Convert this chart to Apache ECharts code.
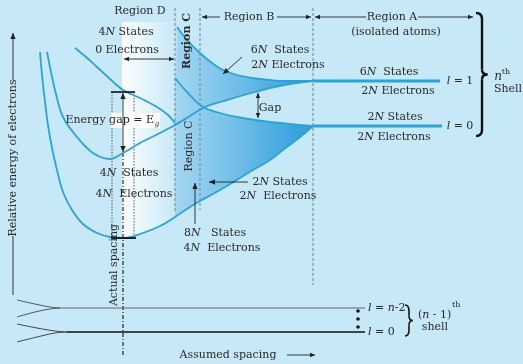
<!DOCTYPE html>
<html><head><meta charset="utf-8">
<script src="https://cdn.jsdelivr.net/npm/echarts@6/dist/echarts.min.js"></script>
<style>html,body{margin:0;padding:0;background:#c7e8f7}#c{width:523px;height:364px}</style>
</head><body><div id="c"></div>
<script>
// ---- data: curves as [interatomic spacing, relative energy] (diagram units) ----
const curveP = [[40,52],[42,75],[45,102],[48,125],[52,148],[57,170],[63,192],[72,210],[83,224],[97,233],[110,237],[125,238],[140,234],[160,226],[175,217],[190,207],[200,201],[220,190],[240,178],[253,170],[270,160],[283,150],[295,141],[305,133],[313,126]];
const curveQ = [[47,52],[51,72],[55,90],[63,117],[77,137],[93,153],[110,159],[123,153],[140,143],[160,133],[175,125],[190,116],[203,108],[220,102],[237,97],[255,92],[270,88],[290,84],[313,81]];
const curveR = [[75,48],[86,57],[97,67],[110,79],[123,90],[140,98],[157,107],[168,115],[175,123]];
const curveS = [[177,27],[188,41],[200,53],[212,63],[223,70],[237,75],[253,78],[270,80],[283,81],[300,81],[313,81]];
const curveA = [[175,78],[187,92],[203,107],[220,113],[237,117],[255,120],[270,122],[290,124],[313,126]];
const levelL1 = [[313,81],[440,81]];
const levelL0 = [[313,126],[442,126]];
const shellTop = [[60,308],[365,308]];
const shellBot = [[67,332],[365,332]];
const shellTopArmA = [[17,300],[35,304],[50,307],[60,308]];
const shellTopArmB = [[17,317],[35,312],[50,309],[60,308]];
const shellBotArmA = [[17,324],[37,328],[55,331],[67,332]];
const shellBotArmB = [[17,342],[37,337],[55,333],[67,332]];
const boundaryD = [[123,153],[123,357]];
const boundaryC1 = [[175,8],[175,213]];
const boundaryC2 = [[200,8],[200,210]];
const boundaryA = [[313,8],[313,285]];
const gapLeft = [[112,92],[112,238]];
const gapRight = [[134,92],[134,238]];

const CURVE = '#27a5da';
const FONT = 'DejaVu Serif';
const TXT = '#2a2a2a';

function lineS(data, width, color, type, smooth, z) {
  return {type:'line', data, smooth: smooth, showSymbol:false, symbol:'none', silent:true, z: z||5,
    lineStyle:{width, color, type: type||'solid'}, animation:false};
}
function band(points, stops, x0, x1, z) {
  return {type:'custom', silent:true, z: z, clip:false, data:[[0,0]], animation:false,
    renderItem:function(params, api){
      const pts = points.map(p => api.coord(p));
      const a = api.coord([x0,0])[0], b = api.coord([x1,0])[0];
      return {type:'polygon', shape:{points:pts},
        style:{fill:{type:'linear', x:a, y:0, x2:b, y2:0, colorStops:stops, global:true}}};
    }};
}
const sel = (arr, lo, hi) => arr.filter(p => p[0] >= lo && p[0] <= hi);
const upperBand = curveS.concat(sel(curveQ,175,313).reverse());
const lowerBand = curveA.concat(sel(curveP,175,313).reverse());
const whiteD = [[122,22],[176,22]].concat(sel(curveP,122,176).reverse()).concat([[122,238]]);
const bandStops = [{offset:0,color:'#a3d6f1'},{offset:0.35,color:'#7cc4ea'},{offset:0.75,color:'#4aabe0'},{offset:1,color:'#2b9cd8'}];
const whiteStops = [{offset:0,color:'rgba(255,255,255,0.95)'},{offset:0.55,color:'rgba(255,255,255,0.45)'},{offset:1,color:'rgba(255,255,255,0)'}];

// ---- annotation helpers (pixel layout) ----
function txt(x,y,text,o){ o=o||{};
  const st = {text, fontFamily:FONT, fontSize:o.size||11, fill:o.color||TXT, fontWeight:o.bold?'bold':'normal',
    fontStyle:o.italic?'italic':'normal', align:o.align||'center', verticalAlign:'middle',
    rich:{i:{fontStyle:'italic', fontFamily:FONT, fontSize:o.size||11, fill:o.color||TXT}}};
  return {type:'text', x, y, rotation:o.rot||0, z:20, style:st};
}
function head(x,y,ang,size,color){
  const s=size||5, w=s*0.45;
  const c=Math.cos(ang), sn=Math.sin(ang);
  const bx=x-c*s, by=y-sn*s;
  return {type:'polygon', z:21, shape:{points:[[x,y],[bx-sn*w,by+c*w],[bx+sn*w,by-c*w]]}, style:{fill:color||'#222'}};
}
function arrow(x1,y1,x2,y2,both,o){ o=o||{};
  const col=o.color||'#222', ang=Math.atan2(y2-y1,x2-x1);
  const els=[{type:'line', z:21, shape:{x1,y1,x2,y2}, style:{stroke:col, lineWidth:o.w||0.9}}];
  els.push(head(x2,y2,ang,o.size,col));
  if (both) els.push(head(x1,y1,ang+Math.PI,o.size,col));
  return els;
}
function brace(x, y1, y2, d, lw){
  const m=(y1+y2)/2, st={stroke:'#111', lineWidth:lw, fill:'none'};
  const bz=(a,b,c,e,f,h)=>({type:'bezierCurve', z:21, shape:{x1:a,y1:b,cpx1:c,cpy1:e,x2:f,y2:h}, style:st});
  return [
    bz(x,y1, x+d,y1, x+d,y1+6),
    {type:'line', z:21, shape:{x1:x+d,y1:y1+6,x2:x+d,y2:m-5}, style:st},
    bz(x+d,m-5, x+d,m, x+d*1.9,m),
    bz(x+d*1.9,m, x+d,m, x+d,m+5),
    {type:'line', z:21, shape:{x1:x+d,y1:m+5,x2:x+d,y2:y2-6}, style:st},
    bz(x+d,y2-6, x+d,y2, x,y2)
  ];
}

const g = [];
g.push({type:'line', z:21, shape:{x1:111,y1:92,x2:135,y2:92}, style:{stroke:'#111', lineWidth:1.6}});
g.push({type:'line', z:21, shape:{x1:111,y1:238,x2:136,y2:238}, style:{stroke:'#111', lineWidth:1.8}});
g.push({type:'rect', z:19, shape:{x:111,y:113,width:49,height:15}, style:{fill:'#ffffff'}});
g.push(...arrow(123,93,123,152,true,{size:6}));
g.push(txt(154,120,'Energy gap = E',{align:'right'}));
g.push(txt(157,124,'g',{size:7,italic:true}));
g.push(txt(140,11,'Region D'));
g.push(txt(126,32,'4{i|N} States'));
g.push(txt(127,50,'0 Electrons'));
g.push(...arrow(124,59,174,59,true,{size:5}));
g.push(txt(187,41,'Region C',{bold:true,rot:Math.PI/2}));
g.push(txt(189,146,'Region C',{rot:Math.PI/2}));
g.push(...arrow(220,17,202,17,false,{size:5}));
g.push(txt(249,17,'Region B'));
g.push(...arrow(277,17,311,17,false,{size:5}));
g.push(...arrow(366,17,315,17,false,{size:5}));
g.push(txt(392,17,'Region A'));
g.push(...arrow(418,17,473,17,false,{size:5}));
g.push(txt(396,32,'(isolated atoms)'));
g.push(txt(280,50,'6{i|N}  States'));
g.push(txt(288,65,'2{i|N} Electrons'));
g.push(...arrow(242,57,223,74,false,{size:6}));
g.push(txt(270,108,'Gap'));
g.push(...arrow(258,93,258,118,true,{size:5}));
g.push(txt(389,72,'6{i|N}  States'));
g.push(txt(398,91,'2{i|N} Electrons'));
g.push(txt(460,81,'{i|l} = 1'));
g.push(txt(395,117,'2{i|N} States'));
g.push(txt(394,137,'2{i|N} Electrons'));
g.push(txt(460,126,'{i|l} = 0'));
g.push(...brace(476,13,136,6,2.4));
g.push(txt(498,77,'n',{italic:true,size:12}));
g.push(txt(506,72,'th',{size:8}));
g.push(txt(508,89,'Shell'));
g.push(txt(129,173,'4{i|N}  States'));
g.push(txt(134,194,'4{i|N}  Electrons'));
g.push(txt(114,265,'Actual spacing',{rot:Math.PI/2}));
g.push(...arrow(195,224,195,183,false,{size:6}));
g.push(txt(215,233,'8{i|N}   States'));
g.push(txt(222,248,'4{i|N}  Electrons'));
g.push(...arrow(248,182,209,182,false,{size:6}));
g.push(txt(280,182,'2{i|N} States'));
g.push(txt(278,196,'2{i|N}  Electrons'));
g.push(...arrow(13,80,13,33,false,{size:6}));
g.push(txt(13,158,'Relative energy of electrons',{rot:Math.PI/2}));
g.push({type:'line', z:21, shape:{x1:13,y1:236,x2:13,y2:295}, style:{stroke:'#222', lineWidth:0.9}});
g.push(txt(228,355,'Assumed spacing'));
g.push(...arrow(287,355,315,355,false,{size:5}));
[311,319,327].forEach(y => g.push({type:'circle', z:21, shape:{cx:358,cy:y,r:1.8}, style:{fill:'#111'}}));
g.push(txt(368,308,'{i|l} = {i|n}-2',{align:'left'}));
g.push(txt(368,332,'{i|l} = 0',{align:'left'}));
g.push(...brace(405,305,336,4,1.6));
g.push(txt(418,315,'({i|n} - 1)',{align:'left'}));
g.push(txt(452,305,'th',{size:8,align:'left'}));
g.push(txt(435,327,'shell'));

const chart = echarts.init(document.getElementById('c'), null, {renderer:'canvas', width:523, height:364});
chart.setOption({
  backgroundColor:'#c7e8f7',
  animation:false,
  grid:{left:0,right:0,top:0,bottom:0},
  xAxis:{type:'value', min:0, max:523, show:false},
  yAxis:{type:'value', min:0, max:364, inverse:true, show:false},
  series:[
    band(whiteD, whiteStops, 122, 176, 1),
    band(upperBand, bandStops, 175, 313, 2),
    band(lowerBand, bandStops, 175, 313, 2),
    lineS(boundaryD, 1.1, '#111', [4,2,1,2], false, 3),
    lineS(gapLeft, 0.8, '#333', [1.5,1.5], false, 3),
    lineS(gapRight, 0.8, '#333', [1.5,1.5], false, 3),
    lineS(boundaryC1, 1.3, '#7d98ab', [3,2], false, 3),
    lineS(boundaryC2, 1.3, '#7d98ab', [3,2], false, 3),
    lineS(boundaryA, 1.3, '#7d98ab', [3,2], false, 3),
    lineS(curveP, 1.8, CURVE, 'solid', 0.35),
    lineS(curveQ, 1.8, CURVE, 'solid', 0.35),
    lineS(curveR, 1.8, CURVE, 'solid', 0.35),
    lineS(curveS, 1.8, CURVE, 'solid', 0.35),
    lineS(curveA, 1.8, CURVE, 'solid', 0.35),
    lineS(levelL1, 3, CURVE, 'solid', false),
    lineS(levelL0, 3, CURVE, 'solid', false),
    lineS(shellTop, 1, '#666', 'solid', false),
    lineS(shellBot, 1.3, '#111', 'solid', false),
    lineS(shellTopArmA, 0.9, '#444', 'solid', 0.4),
    lineS(shellTopArmB, 0.9, '#444', 'solid', 0.4),
    lineS(shellBotArmA, 0.9, '#333', 'solid', 0.4),
    lineS(shellBotArmB, 0.9, '#333', 'solid', 0.4)
  ],
  graphic: g
});
</script></body></html>
